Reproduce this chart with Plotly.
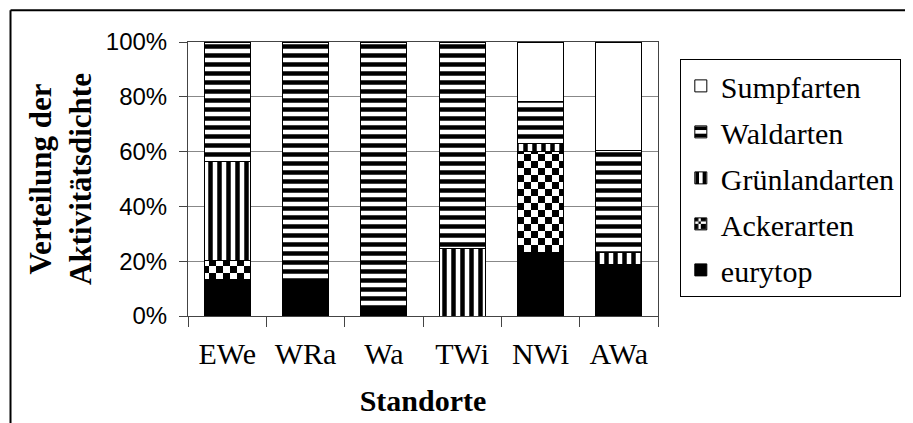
import plotly.graph_objects as go

categories = ["EWe", "WRa", "Wa", "TWi", "NWi", "AWa"]
eurytop = [13.2, 12.3, 3.1, 0.0, 23.1, 18.8]
ackerarten = [7.0, 0.0, 0.0, 0.0, 36.8, 0.0]
gruenlandarten = [36.1, 0.0, 0.0, 24.6, 3.0, 4.4]
waldarten = [43.7, 87.7, 96.9, 75.4, 15.5, 37.3]
sumpfarten = [0.0, 0.0, 0.0, 0.0, 21.6, 39.5]

OFF = 8  # page body margin
W, H = 913 - OFF, 423 - OFF
L, R, T, B = 188 - OFF, 662 - OFF, 42 - OFF, 318 - OFF

series = [
    ("eurytop", eurytop, dict(color="black")),
    ("Ackerarten", ackerarten, dict(color="white", pattern=dict(path="M0,0H7V7H0ZM7,7H14V14H7Z", size=14, fgcolor="black", bgcolor="white", fillmode="replace"))),
    ("Grünlandarten", gruenlandarten, dict(color="white", pattern=dict(shape="|", size=9, solidity=0.5, fgcolor="black", bgcolor="white", fillmode="replace"))),
    ("Waldarten", waldarten, dict(color="white", pattern=dict(shape="-", size=9, solidity=0.5, fgcolor="black", bgcolor="white", fillmode="replace"))),
    ("Sumpfarten", sumpfarten, dict(color="white")),
]

fig = go.Figure()
n = len(series)
for i, (name, vals, mk) in enumerate(series):
    mk = dict(mk)
    mk["line"] = dict(color="black", width=1)
    fig.add_trace(go.Bar(x=categories, y=vals, name=name, legendgroup=name,
                         legendrank=n - i, marker=mk))

def px_x(p):
    return (p - OFF - L) / (R - L)

def px_y(p):
    return (B - (p - OFF)) / (B - T)

fig.update_layout(
    width=W, height=H,
    barmode="stack", bargap=0.41,
    paper_bgcolor="white", plot_bgcolor="white",
    margin=dict(l=L, r=W - R, t=T, b=H - B, pad=0),
    font=dict(family="Liberation Serif", color="black"),
    showlegend=True,
    legend=dict(
        x=px_x(684), y=px_y(59), xanchor="left", yanchor="top",
        traceorder="grouped", tracegroupgap=4,
        bordercolor="black", borderwidth=1,
        font=dict(family="Liberation Serif", size=30, color="black"),
        itemwidth=30,
    ),
    xaxis=dict(
        title=dict(text="<b>Standorte</b>", font=dict(family="Liberation Serif", size=30), standoff=20),
        tickfont=dict(family="Liberation Serif", size=30),
        ticks="outside", tickson="boundaries", ticklen=10, tickcolor="#444",
        ticklabelstandoff=11,
        showline=True, linecolor="#444", linewidth=1, mirror=True,
        showgrid=False,
    ),
    yaxis=dict(
        title=dict(text="<b>Verteilung der<br>Aktivitätsdichte</b>", font=dict(family="Liberation Serif", size=31), standoff=4),
        tickfont=dict(family="Liberation Sans", size=24),
        range=[0, 100], dtick=20, ticksuffix="%",
        ticks="outside", ticklen=8, tickcolor="#444",
        ticklabelstandoff=7,
        showline=True, linecolor="#444", linewidth=1, mirror=True,
        showgrid=True, gridcolor="#888", gridwidth=1,
        zeroline=False,
    ),
    shapes=[
        dict(type="line", xref="paper", yref="paper", x0=px_x(9), x1=px_x(9), y0=px_y(10), y1=px_y(440), line=dict(color="black", width=2)),
        dict(type="line", xref="paper", yref="paper", x0=px_x(9), x1=px_x(930), y0=px_y(10), y1=px_y(10), line=dict(color="black", width=2)),
    ],
)

fig.write_html("out.html")
